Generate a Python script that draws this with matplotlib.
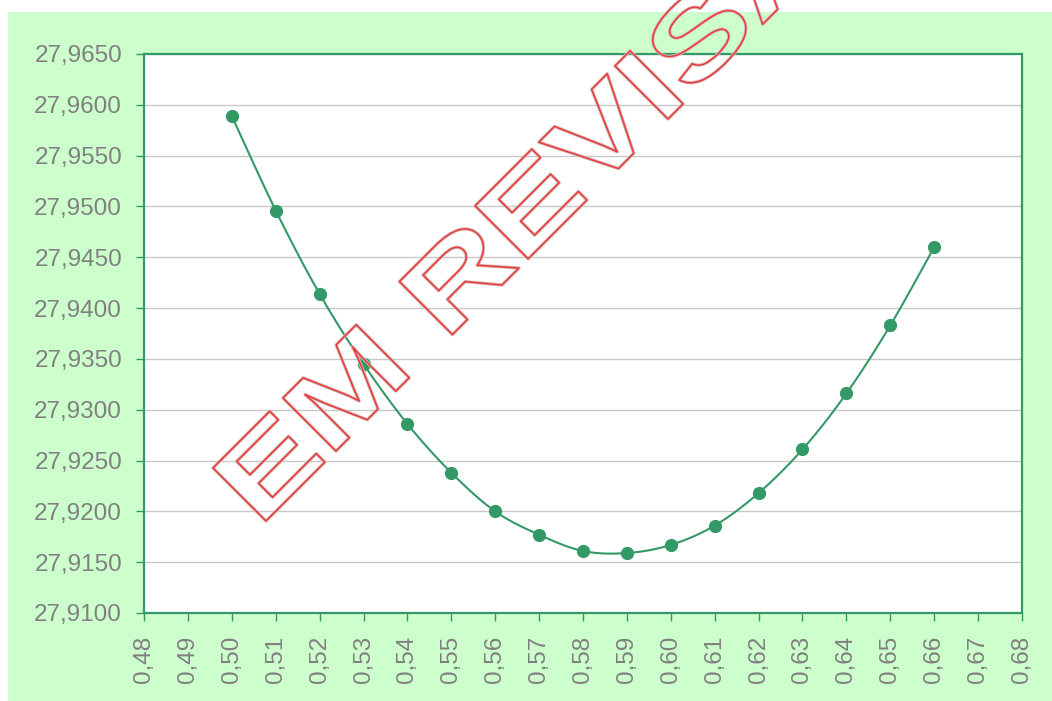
import numpy as np
import matplotlib
matplotlib.use("Agg")
import matplotlib.pyplot as plt
import matplotlib.patheffects as pe
from matplotlib.transforms import Affine2D
from matplotlib.patches import Rectangle
from matplotlib.ticker import FuncFormatter, MultipleLocator

# ---- data ----
x_vals = [0.50, 0.51, 0.52, 0.53, 0.54, 0.55, 0.56, 0.57, 0.58,
          0.59, 0.60, 0.61, 0.62, 0.63, 0.64, 0.65, 0.66]
y_vals = [27.9589, 27.9496, 27.9414, 27.9345, 27.9286, 27.9238, 27.9200,
          27.9177, 27.9161, 27.9159, 27.9167, 27.9186, 27.9218, 27.9261,
          27.9316, 27.9383, 27.9460]
watermark = "EM REVISÃO"

W, H = 1052, 701
GREEN = "#339966"
LABEL = "#808080"

plt.rcParams['font.family'] = ['Liberation Sans', 'DejaVu Sans']

fig = plt.figure(figsize=(W / 100, H / 100), dpi=100)
fig.patch.set_facecolor("white")
fig.patches.append(Rectangle((8 / W, 0), 1 - 8 / W, (H - 12) / H,
                             transform=fig.transFigure, facecolor="#CCFFCC",
                             edgecolor="none", zorder=-10))

L, R, T, B = 144, 1022, 54, 613
ax = fig.add_axes([L / W, (H - B) / H, (R - L) / W, (B - T) / H])
ax.set_facecolor("white")


def catmull_rom(xs, ys, n=20):
    xs = np.asarray(xs, float)
    ys = np.asarray(ys, float)
    px = np.concatenate([[xs[0]], xs, [xs[-1]]])
    py = np.concatenate([[ys[0]], ys, [ys[-1]]])
    ox, oy = [], []
    t = np.linspace(0, 1, n, endpoint=False)
    for i in range(1, len(px) - 2):
        for arr, out in ((px, ox), (py, oy)):
            p0, p1, p2, p3 = arr[i - 1], arr[i], arr[i + 1], arr[i + 2]
            out.extend(0.5 * ((2 * p1) + (-p0 + p2) * t +
                              (2 * p0 - 5 * p1 + 4 * p2 - p3) * t ** 2 +
                              (-p0 + 3 * p1 - 3 * p2 + p3) * t ** 3))
    ox.append(xs[-1])
    oy.append(ys[-1])
    return np.array(ox), np.array(oy)


sx, sy = catmull_rom(x_vals, y_vals)
ax.plot(sx, sy, color=GREEN, lw=1.5, zorder=3)
ax.plot(x_vals, y_vals, 'o', color=GREEN, ms=8.5, zorder=4)

ax.set_xlim(0.48, 0.68)
ax.set_ylim(27.91, 27.965)
ax.xaxis.set_major_locator(MultipleLocator(0.01))
ax.yaxis.set_major_locator(MultipleLocator(0.005))
ax.xaxis.set_major_formatter(FuncFormatter(lambda v, p: f"{v:.2f}".replace('.', ',')))
ax.yaxis.set_major_formatter(FuncFormatter(lambda v, p: f"{v:.4f}".replace('.', ',')))

ax.grid(axis='y', color="#C8C8C8", lw=1)
ax.set_axisbelow(True)
for s in ax.spines.values():
    s.set_color(GREEN)
    s.set_linewidth(1.6)
ax.tick_params(axis='both', colors=GREEN, labelcolor=LABEL, direction='out',
               length=5.8, width=1)
ax.tick_params(axis='y', labelsize=17.5, pad=10)
ax.tick_params(axis='x', labelsize=17.5, pad=10.5, labelrotation=90)


class Stretch(pe.AbstractPathEffect):
    def __init__(self, sx, strokes):
        super().__init__()
        self.sx = sx
        self.strokes = strokes

    def draw_path(self, renderer, gc, tpath, affine, rgbFace=None):
        aff = Affine2D().scale(self.sx, 1.0) + affine
        for lw, col in self.strokes:
            gc0 = renderer.new_gc()
            gc0.copy_properties(gc)
            gc0.set_linewidth(lw)
            gc0.set_foreground(col)
            renderer.draw_path(gc0, tpath, aff, None)
            gc0.restore()


x0, y0 = 259, 528
fig.text(x0 / W, (H - y0) / H, watermark, fontsize=78.5, fontweight='bold',
         rotation=45, rotation_mode='anchor', ha='left', va='baseline',
         color='red', zorder=20,
         path_effects=[Stretch(1.36, [(2.4, "#D8B8B8"), (1.1, "#E83A3A")])])

fig.savefig("out.png", dpi=100)
